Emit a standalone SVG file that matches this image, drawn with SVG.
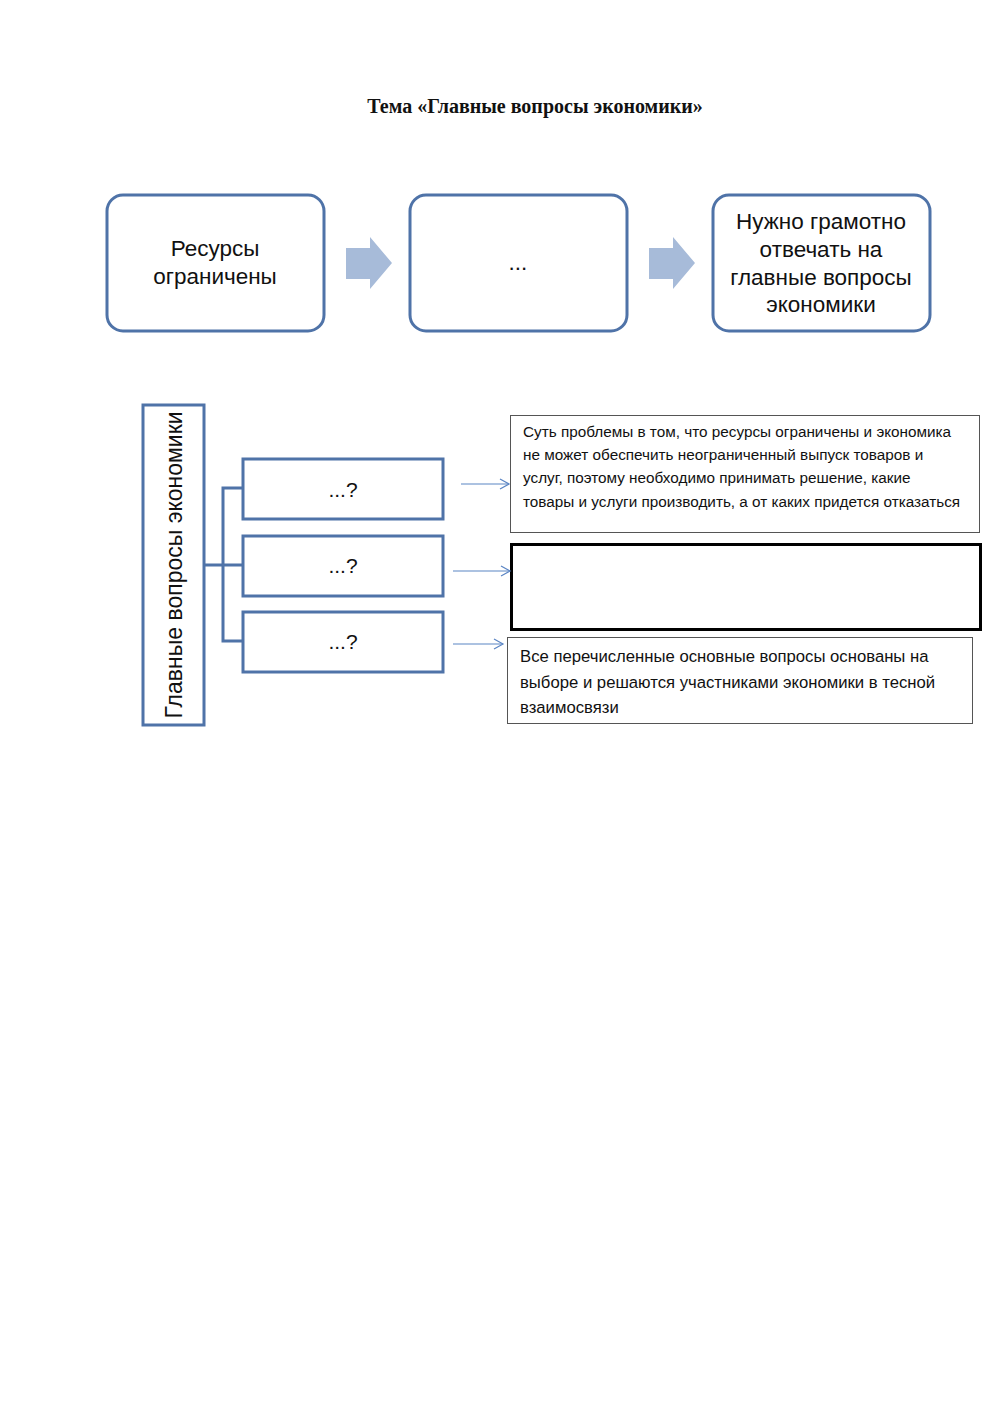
<svg xmlns="http://www.w3.org/2000/svg" width="1000" height="1413" viewBox="0 0 1000 1413">
<style>
.bg{fill:#fff}
.rbox{fill:#fff;stroke:#4f73a8;stroke-width:3}
.sbox{fill:#fff;stroke:#4f73a8;stroke-width:3}
.bigarrow{fill:#a7bbd9}
.t{font-family:"Liberation Sans","Open Sans",sans-serif;fill:#111}
.big{font-size:22.5px}
.q{font-size:21px}
.vert{font-size:23px}
.small{font-size:15.3px}
.med{font-size:16.7px}
.conn{fill:none;stroke:#4f73a8;stroke-width:3}
.thin{fill:none;stroke:#5b85c4;stroke-width:1.2}
</style>
<defs>
<marker id="open" markerWidth="12" markerHeight="12" refX="10" refY="6" orient="auto" markerUnits="userSpaceOnUse">
<path d="M1,1 L10,6 L1,11" fill="none" stroke="#5b85c4" stroke-width="1.2"/>
</marker>
</defs>
<rect class="bg" x="0" y="0" width="1000" height="1413"/>
<text x="535" y="113" text-anchor="middle" font-family="Liberation Serif,serif" font-weight="bold" font-size="20" fill="#111">Тема «Главные вопросы экономики»</text>

<g id="box-resources">
<rect class="rbox" x="107" y="195" width="217" height="136" rx="16"/>
<text class="t big" x="215" y="256" text-anchor="middle">Ресурсы</text>
<text class="t big" x="215" y="284" text-anchor="middle">ограничены</text>
</g>
<g id="box-middle">
<rect class="rbox" x="410" y="195" width="217" height="136" rx="16"/>
<text class="t big" x="518" y="270" text-anchor="middle">...</text>
</g>
<g id="box-answer">
<rect class="rbox" x="713" y="195" width="217" height="136" rx="16"/>
<text class="t big" x="821" y="229" text-anchor="middle">Нужно грамотно</text>
<text class="t big" x="821" y="257" text-anchor="middle">отвечать на</text>
<text class="t big" x="821" y="285" text-anchor="middle">главные вопросы</text>
<text class="t big" x="821" y="312" text-anchor="middle">экономики</text>
</g>
<g id="block-arrows">
<path class="bigarrow" d="M346,248 L370,248 L370,237 L392,263 L370,289 L370,279 L346,279 Z"/>
<path class="bigarrow" d="M649,248 L673,248 L673,237 L695,263 L673,289 L673,279 L649,279 Z"/>
</g>

<g id="box-main">
<rect class="sbox" x="143" y="405" width="61" height="320"/>
<text class="t vert" transform="translate(182,565) rotate(-90)" text-anchor="middle">Главные вопросы экономики</text>
</g>
<g id="q1">
<rect class="sbox" x="243" y="459" width="200" height="60"/>
<text class="t q" x="343" y="497" text-anchor="middle">...?</text>
</g>
<g id="q2">
<rect class="sbox" x="243" y="536" width="200" height="60"/>
<text class="t q" x="343" y="573" text-anchor="middle">...?</text>
</g>
<g id="q3">
<rect class="sbox" x="243" y="612" width="200" height="60"/>
<text class="t q" x="343" y="649" text-anchor="middle">...?</text>
</g>

<g id="desc1">
<rect x="510.5" y="415.5" width="469" height="117" fill="#fff" stroke="#555" stroke-width="1"/>
<text class="t small" x="523" y="437">Суть проблемы в том, что ресурсы ограничены и экономика</text>
<text class="t small" x="523" y="460">не может обеспечить неограниченный выпуск товаров и</text>
<text class="t small" x="523" y="483">услуг, поэтому необходимо принимать решение, какие</text>
<text class="t small" x="523" y="507">товары и услуги производить, а от каких придется отказаться</text>
</g>
<g id="desc2">
<rect x="511.5" y="544.5" width="469" height="85" fill="#fff" stroke="#000" stroke-width="3"/>
</g>
<g id="desc3">
<rect x="507.5" y="637.5" width="465" height="86" fill="#fff" stroke="#555" stroke-width="1"/>
<text class="t med" x="520" y="662">Все перечисленные основные вопросы основаны на</text>
<text class="t med" x="520" y="688">выборе и решаются участниками экономики в тесной</text>
<text class="t med" x="520" y="713">взаимосвязи</text>
</g>

<g id="connectors">
<path class="conn" d="M204,565 L243,565"/>
<path class="conn" d="M243,488 L223,488 L223,641 L243,641"/>
<path class="thin" d="M461,484 L509,484" marker-end="url(#open)"/>
<path class="thin" d="M453,571 L510,571" marker-end="url(#open)"/>
<path class="thin" d="M453,644 L503,644" marker-end="url(#open)"/>
</g>
</svg>
